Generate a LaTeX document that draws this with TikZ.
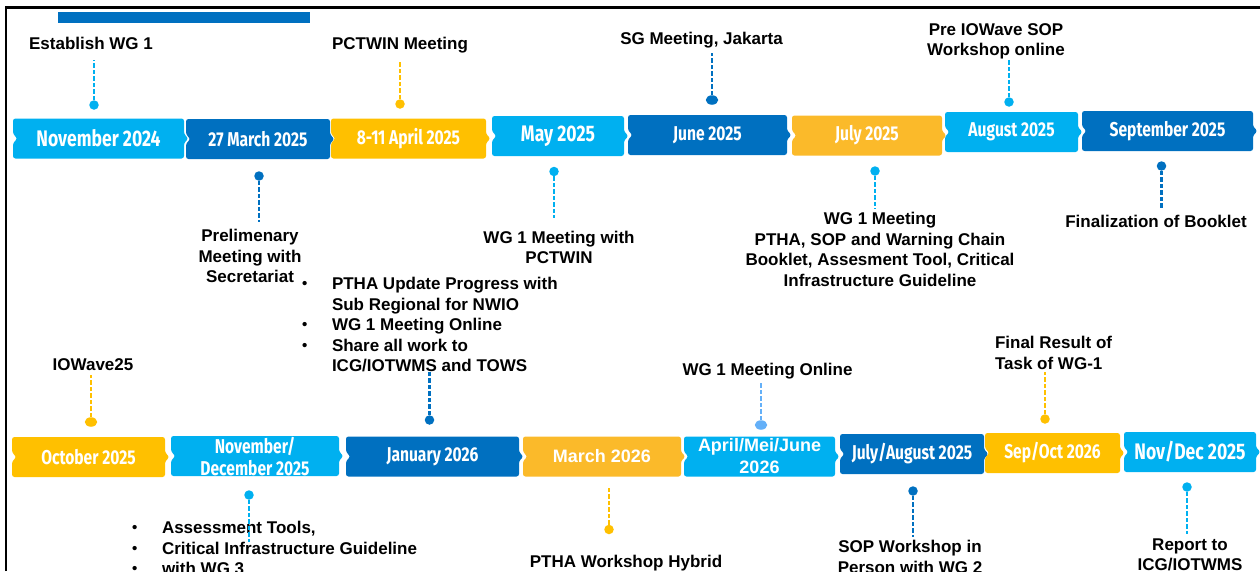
\documentclass[tikz,border=0pt]{standalone}
\usepackage{fontspec}
\setmainfont{Liberation Sans}
\newfontfamily\boxfont[FakeStretch=0.78]{Fira Sans}
\usepackage{tikz}
\usetikzlibrary{positioning,shapes.geometric,backgrounds}

\definecolor{skyb}{HTML}{00B0F0}
\definecolor{deepb}{HTML}{0070C0}
\definecolor{amber}{HTML}{FFC000}
\definecolor{gold}{HTML}{FBBA2A}
\definecolor{paleb}{HTML}{64B0F8}

\newcommand{\bul}{\makebox[30pt][l]{\raisebox{1pt}{\fontsize{15}{15}\selectfont\textbullet}}}
\newcommand{\nobul}{\hspace*{30pt}}

\tikzset{
  monthbox/.style={minimum height=40pt, inner sep=0pt, outer sep=0pt, text=white, align=center,
                   font=\boxfont\bfseries\fontsize{20}{22}\selectfont},
  bigmonth/.style={font=\boxfont\bfseries\fontsize{22.5}{24}\selectfont},
  arialmonth/.style={font=\bfseries\fontsize{18}{22}\selectfont},
  ann/.style={inner sep=0pt, outer sep=0pt, align=center, font=\bfseries\fontsize{17}{20.5}\selectfont},
  dot/.style={circle, inner sep=0pt, minimum size=9.5pt},
  flatdot/.style={ellipse, inner sep=0pt, minimum width=12.5pt, minimum height=9.5pt},
  stem/.style={line width=2.2pt, dash pattern=on 4.5pt off 2pt},
}

\begin{document}
\begin{tikzpicture}[x=1pt, y=-1pt]
  \useasboundingbox (0,0) rectangle (1260,571);
  \clip (0,0) rectangle (1260,571);

  % frame and bar
  \draw[line width=2.4pt] (6,571) -- (6,7.5) -- (1260,7.5);
  \fill[deepb] (58,12) rectangle (310,23);

  % top row
  \node[monthbox, bigmonth, minimum width=171pt] (nov24) at (98.5,138.5) {November 2024};
  \node[monthbox, minimum width=144pt, right=2pt of nov24, yshift=-0.5pt] (mar25) {27 March 2025};
  \node[monthbox, minimum width=155pt, right=1pt of mar25, yshift=0.5pt] (apr25) {8-11 April 2025};
  \node[monthbox, bigmonth, minimum width=132pt, right=6pt of apr25, yshift=2.5pt] (may25) {May 2025};
  \node[monthbox, minimum width=159pt, right=4pt of may25, yshift=1pt] (jun25) {June 2025};
  \node[monthbox, minimum width=150pt, right=5pt of jun25, yshift=-0.5pt] (jul25) {July 2025};
  \node[monthbox, minimum width=133pt, right=3pt of jul25, yshift=3.5pt] (aug25) {August 2025};
  \node[monthbox, minimum width=171pt, right=4pt of aug25, yshift=1pt] (sep25) {September 2025};

  % bottom row
  \node[monthbox, minimum width=153pt] (oct25) at (88.5,457) {October 2025};
  \node[monthbox, minimum width=168pt, right=6pt of oct25, yshift=1pt] (novdec25) {November/\\December 2025};
  \node[monthbox, minimum width=173pt, right=7pt of novdec25, yshift=-0.5pt] (jan26) {January 2026};
  \node[monthbox, arialmonth, minimum width=158pt, right=4pt of jan26] (mar26) {March 2026};
  \node[monthbox, arialmonth, minimum width=151pt, right=3pt of mar26] (amj26) {April/Mei/June\\2026};
  \node[monthbox, minimum width=144pt, right=5pt of amj26, yshift=2.5pt] (julaug25) {July/August 2025};
  \node[monthbox, minimum width=135pt, right=1pt of julaug25, yshift=1pt] (sepoct26) {Sep/Oct 2026};
  \node[monthbox, bigmonth, minimum width=132pt, right=4pt of sepoct26, yshift=1pt] (novdec25b) {Nov/Dec 2025};

  \begin{scope}[on background layer]
    \foreach \n/\col in {nov24/skyb, mar25/deepb, apr25/amber, may25/skyb, jun25/deepb, jul25/gold,
                         aug25/skyb, sep25/deepb, oct25/amber, novdec25/skyb, jan26/deepb, mar26/gold,
                         amj26/skyb, julaug25/deepb, sepoct26/amber, novdec25b/skyb}
      \fill[\col, rounded corners=2.5pt] (\n.north west) -- (\n.north east) -- ([yshift=4.5pt]\n.east)
        -- ([xshift=4.5pt]\n.east) -- ([yshift=-4.5pt]\n.east) -- (\n.south east) -- (\n.south west)
        -- ([yshift=-4.5pt]\n.west) -- ([xshift=4.5pt]\n.west) -- ([yshift=4.5pt]\n.west) -- cycle;
  \end{scope}

  % events above the top row
  \node[ann, anchor=base] (testab) at (91,49.5) {Establish WG 1};
  \node[dot, fill=skyb] (destab) at (94,105) {};
  \draw[stem, skyb, shorten >=10.5pt] (destab) -- (destab |- testab.south);

  \node[ann, anchor=base] (tpct) at (400,49.5) {PCTWIN Meeting};
  \node[dot, fill=amber] (dpct) at (400,104) {};
  \draw[stem, amber, shorten >=7pt] (dpct) -- (dpct |- tpct.south);

  \node[ann, anchor=base] (tsg) at (701.5,44) {SG Meeting, Jakarta};
  \node[flatdot, fill=deepb] (dsg) at (712,100) {};
  \draw[stem, deepb, shorten >=5.5pt] (dsg) -- (dsg |- tsg.south);

  \node[ann, anchor=north] (tpre) at (996,23.5) {Pre IOWave SOP\\Workshop online};
  \node[dot, fill=skyb] (dpre) at (1009,102) {};
  \draw[stem, skyb] (dpre) -- (dpre |- tpre.south);

  % events below the top row
  \node[dot, fill=deepb] (dprel) at (259,176) {};
  \node[ann, anchor=north] (tprel) at (250,229.5) {Prelimenary\\Meeting with\\Secretariat};
  \draw[stem, deepb, shorten >=7.5pt] (dprel) -- (dprel |- tprel.north);

  \node[dot, fill=skyb] (dwgp) at (554,171.5) {};
  \node[ann, anchor=north] (twgp) at (559,231) {WG 1 Meeting with\\PCTWIN};
  \draw[stem, skyb, shorten >=13pt] (dwgp) -- (dwgp |- twgp.north);

  \node[dot, fill=skyb] (dwgj) at (875,171) {};
  \node[ann, anchor=north] (twgj) at (880,212.5) {WG 1 Meeting\\PTHA, SOP and Warning Chain\\Booklet, Assesment Tool, Critical\\Infrastructure Guideline};
  \draw[stem, skyb, shorten >=3.5pt] (dwgj) -- (dwgj |- twgj.north);

  \node[dot, fill=deepb] (dbook) at (1161.5,166) {};
  \node[ann, anchor=north] (tbook) at (1156,215.5) {Finalization of Booklet};
  \draw[stem, deepb, shorten >=7.5pt] (dbook) -- (dbook |- tbook.north);

  % january list
  \node[ann, align=left, anchor=north west] (tjan) at (302,277.5) {\bul PTHA Update Progress with\\
    \nobul Sub Regional for NWIO\\ \bul WG 1 Meeting Online\\ \bul Share all work to\\ \nobul ICG/IOTWMS and TOWS};
  \node[dot, fill=deepb] (djan) at (429.5,420) {};
  \draw[stem, deepb] (djan) -- (djan |- tjan.south);

  % events above the bottom row
  \node[ann, anchor=base] (tiow) at (93,370) {IOWave25};
  \node[flatdot, fill=amber] (diow) at (91,422) {};
  \draw[stem, amber, shorten >=5pt] (diow) -- (diow |- tiow.south);

  \node[ann, anchor=base] (twgo) at (767.5,375) {WG 1 Meeting Online};
  \node[flatdot, fill=paleb] (dwgo) at (761,425) {};
  \draw[stem, paleb, shorten >=3.5pt] (dwgo) -- (dwgo |- twgo.south);

  \node[ann, align=left, anchor=north west] (tfin) at (995,336.5) {Final Result of\\Task of WG-1};
  \node[dot, fill=amber] (dfin) at (1045,419) {};
  \draw[stem, amber, shorten >=3pt] (dfin) -- (dfin |- tfin.south);

  % events below the bottom row
  \node[ann, align=left, anchor=north west] (tnd) at (132,521.5) {\bul Assessment Tools,\\
    \bul Critical Infrastructure Guideline\\ \bul with WG 3};
  \node[dot, fill=skyb] (dnd) at (249,495) {};
  \draw[stem, skyb, shorten >=-20pt] (dnd) -- (dnd |- tnd.north);

  \node[dot, fill=amber] (dpth) at (609,529.5) {};
  \draw[stem, amber, shorten >=11.5pt] (dpth) -- (dpth |- mar26.south);
  \node[ann, anchor=base] (tpth) at (626,567) {PTHA Workshop Hybrid};

  \node[dot, fill=deepb] (dsop) at (913,491) {};
  \node[ann, anchor=north] (tsop) at (910,540.5) {SOP Workshop in\\Person with WG 2};
  \draw[stem, deepb, shorten >=4pt] (dsop) -- (dsop |- tsop.north);

  \node[dot, fill=skyb] (drep) at (1187,487) {};
  \node[ann, anchor=north] (trep) at (1190,538.5) {Report to\\ICG/IOTWMS};
  \draw[stem, skyb, shorten >=5pt] (drep) -- (drep |- trep.north);
\end{tikzpicture}
\end{document}
